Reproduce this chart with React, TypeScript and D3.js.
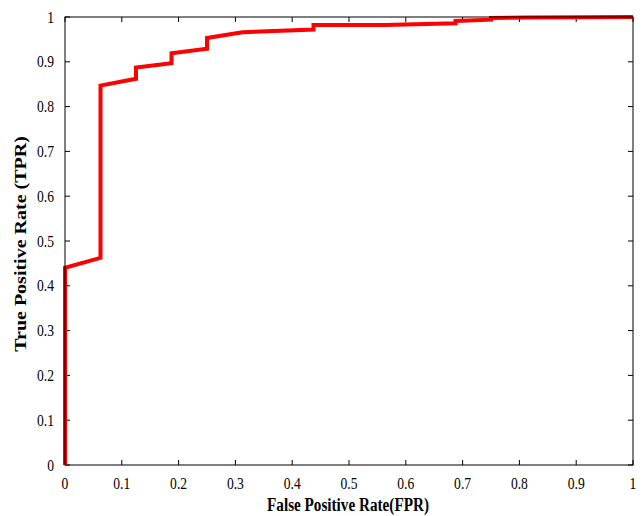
import React from "react";
import * as d3 from "d3";

const fpr = [0, 0, 0.0625, 0.0625, 0.125, 0.125, 0.1875, 0.1875, 0.25, 0.25, 0.3125, 0.4375, 0.4375, 0.5625, 0.6875, 0.6875, 0.75, 0.75, 0.8125, 1];
const tpr = [0, 0.44, 0.4625, 0.847, 0.862, 0.887, 0.897, 0.919, 0.929, 0.953, 0.966, 0.972, 0.982, 0.982, 0.986, 0.991, 0.994, 0.998, 0.999, 1];
const xTicks = [0, 0.1, 0.2, 0.3, 0.4, 0.5, 0.6, 0.7, 0.8, 0.9, 1];
const yTicks = [0, 0.1, 0.2, 0.3, 0.4, 0.5, 0.6, 0.7, 0.8, 0.9, 1];
const xLabel = "False Positive Rate(FPR)";
const yLabel = "True Positive Rate (TPR)";

const W = 643, H = 516;
const L = 65, R = 633, T = 17, B = 465;

export default function App() {
  const x = d3.scaleLinear().domain([0, 1]).range([L, R]);
  const y = d3.scaleLinear().domain([0, 1]).range([B, T]);
  const pts: [number, number][] = fpr.map((f, i) => [f, tpr[i]]);
  const line = d3.line<[number, number]>().x(d => x(d[0])).y(d => y(d[1]));
  const font = "'Liberation Serif', 'Times New Roman', serif";
  const tl = 5;
  const sx = 0.8;
  return (
    <svg width={W} height={H} style={{ position: "absolute", left: 0, top: 0, background: "#fff" }}>
      <rect x={0} y={0} width={W} height={H} fill="#fff" />
      {xTicks.map(t => (
        <g key={"x" + t}>
          <line x1={x(t)} x2={x(t)} y1={B} y2={B - tl} stroke="#000" strokeWidth={1} />
          <line x1={x(t)} x2={x(t)} y1={T} y2={T + tl} stroke="#000" strokeWidth={1} />
          <text transform={`translate(${x(t)},488.5) scale(${sx},1)`} textAnchor="middle" fontFamily={font} fontSize={17} fill="#000">{d3.format("~g")(t)}</text>
        </g>
      ))}
      {yTicks.map(t => (
        <g key={"y" + t}>
          <line x1={L} x2={L + tl} y1={y(t)} y2={y(t)} stroke="#000" strokeWidth={1} />
          <line x1={R} x2={R - tl} y1={y(t)} y2={y(t)} stroke="#000" strokeWidth={1} />
          <text transform={`translate(54,${y(t) + 5.5}) scale(${sx},1)`} textAnchor="end" fontFamily={font} fontSize={17} fill="#000">{d3.format("~g")(t)}</text>
        </g>
      ))}
      <path d={line(pts) || ""} fill="none" stroke="#ff0000" strokeWidth={4} strokeLinejoin="miter" />
      <rect x={L} y={T} width={R - L} height={B - T} fill="none" stroke="#000" strokeWidth={1} />
      <text transform={`translate(${(L + R) / 2 - 1},511) scale(${sx},1)`} textAnchor="middle" fontFamily={font} fontSize={19} fontWeight="bold" fill="#000">{xLabel}</text>
      <text transform={`translate(25.5,244) scale(${sx},1) rotate(-90)`} textAnchor="middle" fontFamily={font} fontSize={20} fontWeight="bold" fill="#000">{yLabel}</text>
    </svg>
  );
}
